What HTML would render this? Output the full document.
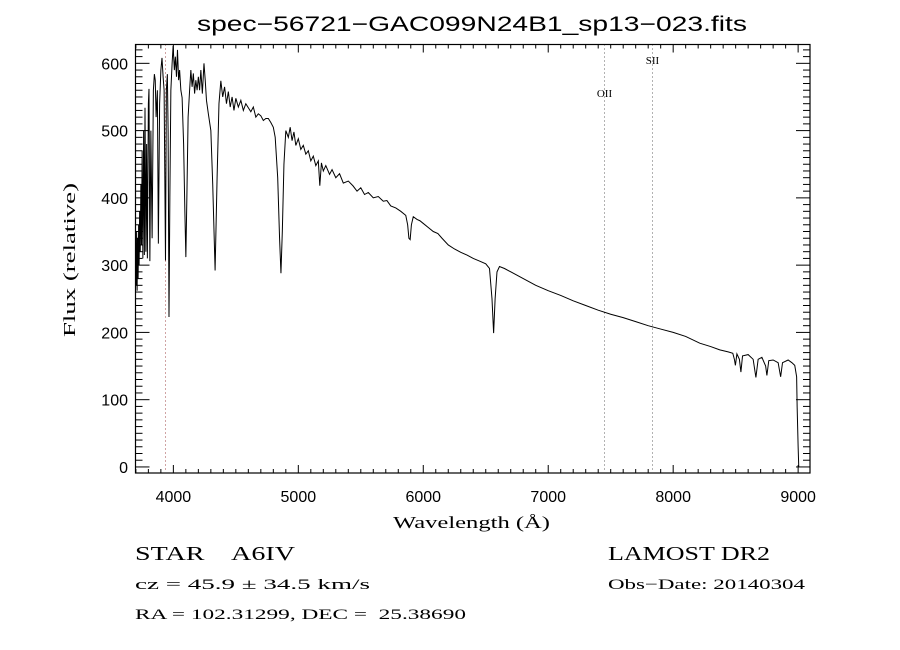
<!DOCTYPE html>
<html><head><meta charset="utf-8"><style>
html,body{margin:0;padding:0;background:#fff;}
svg{display:block;}
text{fill:#000;}
</style></head><body>
<svg id="chart" width="900" height="650" viewBox="0 0 900 650" xmlns="http://www.w3.org/2000/svg">
<rect width="900" height="650" fill="#fff"/>
<text x="197" y="31" textLength="550" lengthAdjust="spacingAndGlyphs" font-family="Liberation Sans, sans-serif" font-size="21">spec−56721−GAC099N24B1_sp13−023.fits</text>
<g id="lines"></g>
<g id="ticks"></g>
<polyline id="spec" fill="none" stroke="#000" stroke-width="1" stroke-linejoin="miter"/>
<rect x="135.5" y="44.5" width="674.5" height="428.5" fill="none" stroke="#000" stroke-width="1.2"/>
<text x="393" y="528" textLength="157" lengthAdjust="spacingAndGlyphs" font-family="Liberation Serif, serif" font-size="17">Wavelength (Å)</text>
<text transform="translate(75,337) rotate(-90)" textLength="154" lengthAdjust="spacingAndGlyphs" font-family="Liberation Serif, serif" font-size="17">Flux (relative)</text>
<text x="135" y="560" textLength="160" lengthAdjust="spacingAndGlyphs" font-family="Liberation Serif, serif" font-size="20" xml:space="preserve">STAR    A6IV</text>
<text x="135" y="589" textLength="235" lengthAdjust="spacingAndGlyphs" font-family="Liberation Serif, serif" font-size="15">cz = 45.9 ± 34.5 km/s</text>
<text x="135" y="619" textLength="331" lengthAdjust="spacingAndGlyphs" font-family="Liberation Serif, serif" font-size="15" xml:space="preserve">RA = 102.31299, DEC =  25.38690</text>
<text x="608" y="560" textLength="162" lengthAdjust="spacingAndGlyphs" font-family="Liberation Serif, serif" font-size="20">LAMOST DR2</text>
<text x="608" y="589" textLength="197" lengthAdjust="spacingAndGlyphs" font-family="Liberation Serif, serif" font-size="15">Obs−Date: 20140304</text>
</svg>
<script>
const wave = [3697,3702,3706,3710,3714,3718,3722,3726,3730,3735,3740,3745,3750,3756,3762,3768,3773,3780,3786,3792,3800,3805,3812,3820,3830,3840,3848,3855,3862,3872,3880,3890,3900,3909,3918,3926,3937,3944,3952,3958,3965,3972,3980,3990,3998,4008,4016,4025,4033,4042,4050,4060,4070,4082,4092,4100,4108,4118,4130,4140,4150,4160,4170,4180,4190,4200,4210,4220,4232,4245,4255,4265,4280,4300,4315,4334,4350,4365,4380,4395,4410,4425,4440,4455,4470,4485,4500,4520,4540,4560,4580,4600,4620,4640,4660,4680,4700,4720,4740,4760,4780,4800,4815,4835,4850,4861,4872,4885,4900,4920,4935,4950,4965,4980,5000,5020,5040,5060,5080,5100,5120,5140,5160,5172,5185,5200,5220,5250,5270,5300,5330,5360,5400,5437,5470,5500,5530,5560,5600,5640,5680,5709,5740,5780,5820,5860,5875,5885,5895,5905,5920,5950,5973,6000,6040,6080,6117,6150,6200,6250,6300,6350,6400,6450,6500,6530,6550,6563,6575,6590,6610,6650,6700,6800,6900,7000,7100,7200,7300,7400,7500,7600,7700,7800,7900,8000,8100,8213,8300,8373,8440,8477,8490,8498,8510,8530,8542,8555,8600,8640,8662,8680,8710,8740,8750,8765,8800,8840,8860,8875,8920,8950,8973,8988,8992,9000,9005];
const flux = [330,270,350,262,340,280,360,300,380,320,420,330,470,310,500,315,534,320,480,310,540,562,306,500,340,560,584,575,520,560,332,540,590,608,580,560,307,560,584,500,223,400,560,600,626,590,610,580,620,575,590,560,549,480,380,312,400,520,560,590,565,585,555,575,560,580,560,590,555,600,575,545,525,500,420,292,430,540,574,550,565,540,558,535,550,530,548,535,545,530,540,534,528,535,520,525,522,515,518,518,512,505,490,430,340,288,350,450,500,490,505,485,498,478,488,472,478,465,470,455,462,448,455,418,452,440,448,435,442,430,436,422,425,418,410,415,405,408,400,402,395,396,388,385,380,374,360,340,338,360,372,368,366,362,356,350,347,340,330,324,319,315,310,306,302,295,250,199,250,290,298,295,290,280,270,262,255,247,240,233,227,222,216,210,205,200,194,184,179,174,171,169,160,151,168,160,141,165,167,160,133,160,163,150,136,158,159,155,134,155,159,155,151,134,90,30,0];
const xTicks = [4000,5000,6000,7000,8000,9000];
const yTicks = [0,100,200,300,400,500,600];
const lineWaves = [3934,7443,7829];
const lineNames = ["","OII","SII"];

const X0=135.5,X1=810,Y0=473,Y1=44.5;
const XMIN=3697,XMAX=9095,YMIN=-9,YMAX=628;
function xs(v){return X0+(v-XMIN)/(XMAX-XMIN)*(X1-X0);}
function ys(v){return Y0-(v-YMIN)/(YMAX-YMIN)*(Y0-Y1);}
const NS="http://www.w3.org/2000/svg";
const svg=document.getElementById('chart');
const tg=document.getElementById('ticks');
function mk(tag,attrs,parent){const e=document.createElementNS(NS,tag);for(const k in attrs)e.setAttribute(k,attrs[k]);parent.appendChild(e);return e;}

const pts=wave.map((w,i)=>xs(w).toFixed(2)+','+ys(flux[i]).toFixed(2)).join(' ');
document.getElementById('spec').setAttribute('points',pts);

for(let v=3700;v<=9000;v+=100){
  const major=v%1000===0;
  const L=major?8:4;
  const x=xs(v);
  const t1=mk('line',{x1:x,x2:x,y1:Y0,y2:Y0-L,stroke:'#000','stroke-width':1},tg);
  
  
  const t2=mk('line',{x1:x,x2:x,y1:Y1,y2:Y1+L,stroke:'#000','stroke-width':1},tg);
  
  
}
xTicks.forEach(v=>{
  const t=mk('text',{x:xs(v),y:502,'text-anchor':'middle','font-family':'Liberation Sans, sans-serif','font-size':'16'},svg);
  t.textContent=v;
  
  
});
for(let v=0;v<=620;v+=10){
  const major=v%100===0;
  const L=major?14:7;
  const y=ys(v);
  const t1=mk('line',{x1:X0,x2:X0+L,y1:y,y2:y,stroke:'#000','stroke-width':1},tg);
  
  
  const t2=mk('line',{x1:X1,x2:X1-L,y1:y,y2:y,stroke:'#000','stroke-width':1},tg);
  
  
}
yTicks.forEach(v=>{
  const t=mk('text',{x:128,y:ys(v)+6,'text-anchor':'end','font-family':'Liberation Sans, sans-serif','font-size':'16'},svg);
  t.textContent=v;
  
  
});
const lg=document.getElementById('lines');
const labelY=[0,97,64];
lineWaves.forEach((w,i)=>{
  const x=Math.round(xs(w))+0.5;
  const l=mk('line',{x1:x,x2:x,y1:Y1,y2:Y0,stroke:i===0?'#a04848':'#666','stroke-width':1,'stroke-dasharray':'1,3'},lg);
  
  
  if(lineNames[i]){
    const t=mk('text',{x:x,y:labelY[i],'text-anchor':'middle','font-family':'Liberation Serif, serif','font-size':'11'},lg);
    t.textContent=lineNames[i];
    
    
  }
});
</script>
</body></html>
